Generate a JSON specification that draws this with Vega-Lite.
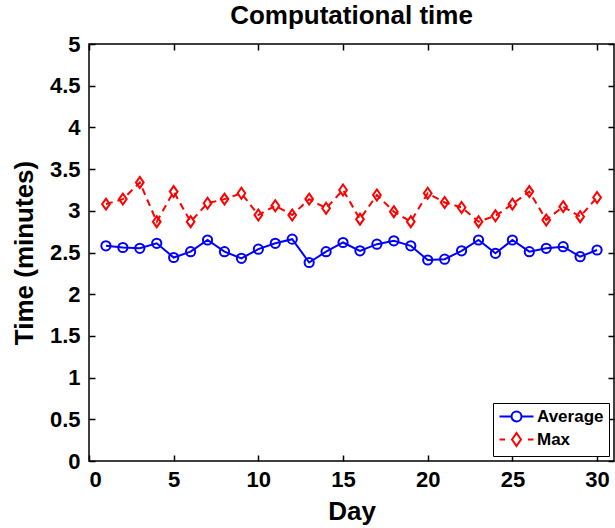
{
  "$schema": "https://vega.github.io/schema/vega-lite/v6.json",
  "width": 525,
  "height": 417,
  "autosize": {"type": "none"},
  "padding": {"left": 89, "top": 44, "right": 1, "bottom": 67},
  "background": "white",
  "config": {
    "font": "Liberation Sans",
    "view": {"stroke": "black", "strokeWidth": 1.5},
    "axis": {
      "grid": false,
      "domain": false,
      "ticks": true,
      "tickColor": "black",
      "tickWidth": 1.5,
      "tickSize": 6,
      "offset": -6,
      "labelColor": "black",
      "labelFont": "Liberation Sans",
      "labelFontWeight": "bold",
      "labelFontSize": 22,
      "titleColor": "black",
      "titleFont": "Liberation Sans",
      "titleFontWeight": "bold",
      "titleFontSize": 26
    },
    "legend": {
      "strokeColor": "black",
      "fillColor": "white",
      "padding": 5,
      "labelFont": "Liberation Sans",
      "labelFontWeight": "bold",
      "labelFontSize": 17,
      "labelColor": "black",
      "labelOffset": 22,
      "symbolSize": 196,
      "symbolStrokeWidth": 2,
      "rowPadding": 2
    }
  },
  "title": {
    "text": "Computational time",
    "font": "Liberation Sans",
    "fontSize": 26,
    "fontWeight": "bold",
    "color": "black",
    "anchor": "middle",
    "offset": 4
  },
  "data": {
    "values": [
      {"day": 1, "series": "Average", "time": 2.58},
      {"day": 2, "series": "Average", "time": 2.56},
      {"day": 3, "series": "Average", "time": 2.55},
      {"day": 4, "series": "Average", "time": 2.61},
      {"day": 5, "series": "Average", "time": 2.44},
      {"day": 6, "series": "Average", "time": 2.51},
      {"day": 7, "series": "Average", "time": 2.65},
      {"day": 8, "series": "Average", "time": 2.51},
      {"day": 9, "series": "Average", "time": 2.43},
      {"day": 10, "series": "Average", "time": 2.54},
      {"day": 11, "series": "Average", "time": 2.61},
      {"day": 12, "series": "Average", "time": 2.66},
      {"day": 13, "series": "Average", "time": 2.38},
      {"day": 14, "series": "Average", "time": 2.51},
      {"day": 15, "series": "Average", "time": 2.62},
      {"day": 16, "series": "Average", "time": 2.52},
      {"day": 17, "series": "Average", "time": 2.60},
      {"day": 18, "series": "Average", "time": 2.64},
      {"day": 19, "series": "Average", "time": 2.58},
      {"day": 20, "series": "Average", "time": 2.41},
      {"day": 21, "series": "Average", "time": 2.42},
      {"day": 22, "series": "Average", "time": 2.52},
      {"day": 23, "series": "Average", "time": 2.65},
      {"day": 24, "series": "Average", "time": 2.49},
      {"day": 25, "series": "Average", "time": 2.65},
      {"day": 26, "series": "Average", "time": 2.51},
      {"day": 27, "series": "Average", "time": 2.55},
      {"day": 28, "series": "Average", "time": 2.57},
      {"day": 29, "series": "Average", "time": 2.45},
      {"day": 30, "series": "Average", "time": 2.53},
      {"day": 1, "series": "Max", "time": 3.08},
      {"day": 2, "series": "Max", "time": 3.14},
      {"day": 3, "series": "Max", "time": 3.34},
      {"day": 4, "series": "Max", "time": 2.87},
      {"day": 5, "series": "Max", "time": 3.23},
      {"day": 6, "series": "Max", "time": 2.87},
      {"day": 7, "series": "Max", "time": 3.09},
      {"day": 8, "series": "Max", "time": 3.14},
      {"day": 9, "series": "Max", "time": 3.21},
      {"day": 10, "series": "Max", "time": 2.95},
      {"day": 11, "series": "Max", "time": 3.06},
      {"day": 12, "series": "Max", "time": 2.95},
      {"day": 13, "series": "Max", "time": 3.14},
      {"day": 14, "series": "Max", "time": 3.03},
      {"day": 15, "series": "Max", "time": 3.25},
      {"day": 16, "series": "Max", "time": 2.90},
      {"day": 17, "series": "Max", "time": 3.19},
      {"day": 18, "series": "Max", "time": 2.99},
      {"day": 19, "series": "Max", "time": 2.87},
      {"day": 20, "series": "Max", "time": 3.21},
      {"day": 21, "series": "Max", "time": 3.10},
      {"day": 22, "series": "Max", "time": 3.04},
      {"day": 23, "series": "Max", "time": 2.87},
      {"day": 24, "series": "Max", "time": 2.94},
      {"day": 25, "series": "Max", "time": 3.08},
      {"day": 26, "series": "Max", "time": 3.23},
      {"day": 27, "series": "Max", "time": 2.89},
      {"day": 28, "series": "Max", "time": 3.05},
      {"day": 29, "series": "Max", "time": 2.93},
      {"day": 30, "series": "Max", "time": 3.16}
    ]
  },
  "layer": [
    {
      "transform": [{"filter": "datum.series === 'Average'"}],
      "mark": {"type": "line", "color": "#0000ff", "strokeWidth": 2},
      "encoding": {
        "x": {"field": "day", "type": "quantitative", "scale": {"domain": [0, 31], "nice": false},
              "axis": {"orient": "bottom", "title": "Day", "values": [0, 5, 10, 15, 20, 25, 30], "labelPadding": 8, "titlePadding": 8}},
        "y": {"field": "time", "type": "quantitative", "scale": {"domain": [0, 5], "nice": false, "zero": false},
              "axis": {"orient": "left", "title": "Time (minutes)", "values": [0, 0.5, 1, 1.5, 2, 2.5, 3, 3.5, 4, 4.5, 5], "labelExpr": "'' + datum.value", "labelPadding": 9, "titlePadding": 12}}
      }
    },
    {
      "transform": [{"filter": "datum.series === 'Max'"}],
      "mark": {"type": "line", "color": "#ff0000", "strokeWidth": 2, "strokeDash": [7, 5]},
      "encoding": {
        "x": {"field": "day", "type": "quantitative", "axis": null},
        "y": {"field": "time", "type": "quantitative", "axis": null}
      }
    },
    {
      "transform": [{"filter": "datum.series === 'Average'"}],
      "mark": {"type": "point", "shape": "circle", "filled": false, "color": "#0000ff", "strokeWidth": 2, "size": 85, "opacity": 1},
      "encoding": {
        "x": {"field": "day", "type": "quantitative", "axis": null},
        "y": {"field": "time", "type": "quantitative", "axis": null}
      }
    },
    {
      "transform": [{"filter": "datum.series === 'Max'"}],
      "mark": {"type": "point", "shape": "M0,-1L0.7,0L0,1L-0.7,0Z", "filled": false, "color": "#ff0000", "strokeWidth": 2, "size": 121, "opacity": 1},
      "encoding": {
        "x": {"field": "day", "type": "quantitative", "axis": null},
        "y": {"field": "time", "type": "quantitative", "axis": null}
      }
    },
    {
      "mark": {"type": "point", "filled": false, "strokeWidth": 2, "opacity": 0},
      "encoding": {
        "x": {"field": "day", "type": "quantitative",
              "axis": {"orient": "top", "title": null, "labels": false, "values": [0, 5, 10, 15, 20, 25, 30]}},
        "y": {"field": "time", "type": "quantitative",
              "axis": {"orient": "right", "title": null, "labels": false, "values": [0, 0.5, 1, 1.5, 2, 2.5, 3, 3.5, 4, 4.5, 5]}},
        "color": {"field": "series", "type": "nominal",
                  "scale": {"domain": ["Average", "Max"], "range": ["#0000ff", "#ff0000"]},
                  "legend": {"title": null, "orient": "bottom-right", "offset": 5,
                             "encode": {"symbols": {"update": {"opacity": {"value": 1}, "strokeOpacity": {"value": 1}}}}}},
        "shape": {"field": "series", "type": "nominal",
                  "scale": {"domain": ["Average", "Max"], "range": [
                    "M-1,0H0.72M2.14,0H3.86M2.14,0A0.71,0.71,0,1,1,0.72,0A0.71,0.71,0,1,1,2.14,0Z",
                    "M-1,0H-0.2M3.06,0H3.86M1.43,-0.93L2.07,0L1.43,0.93L0.79,0Z"
                  ]},
                  "legend": {"title": null, "orient": "bottom-right", "offset": 5,
                             "encode": {"symbols": {"update": {"opacity": {"value": 1}, "strokeOpacity": {"value": 1}}}}}}
      }
    }
  ],
  "resolve": {"axis": {"x": "independent", "y": "independent"}}
}
